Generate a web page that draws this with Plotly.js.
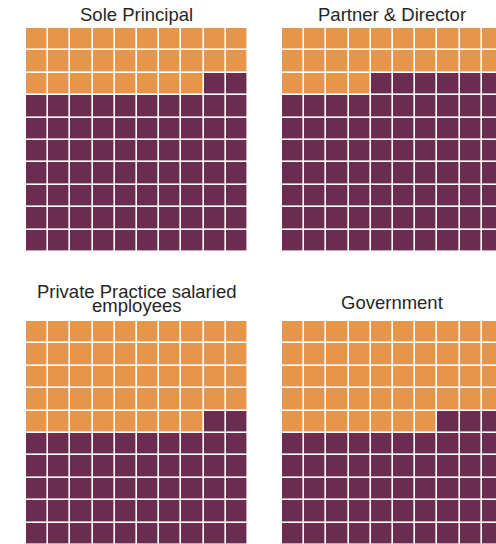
<!DOCTYPE html>
<html>
<head>
<meta charset="utf-8">
<script src="https://cdn.plot.ly/plotly-3.0.1.min.js"></script>
<style>
html, body { margin: 0; padding: 0; overflow: hidden; background: #ffffff; }
#chart { width: 520px; height: 560px; }
</style>
</head>
<body>
<div id="chart"></div>
<script>
// ---- data ----
var categories = ['Sole Principal', 'Partner & Director', 'Private Practice salaried employees', 'Government'];
var titleLines = [['Sole Principal'], ['Partner & Director'], ['Private Practice salaried', 'employees'], ['Government']];
var orangeCells = [28, 24, 48, 47];   // cells out of 100
var purpleCells = [72, 76, 52, 53];   // cells out of 100
var gridRows = 10;
var gridCols = 10;

// ---- style ----
var ORANGE = '#E6964A';
var PURPLE = '#6B2C4F';
var W = 520, H = 560;
// pixel boxes for each waffle (left, top, right, bottom)
var boxes = [
  [26, 28, 248, 252],
  [282, 28, 504, 252],
  [26, 321, 248, 545],
  [282, 321, 504, 545]
];
// title line centre y positions (px)
var titleY = [[14], [14], [291.5], [302.5]];
titleY[2].push(306);

function buildZ(nOrange) {
  var z = [];
  for (var r = 0; r < gridRows; r++) {
    var row = [];
    for (var c = 0; c < gridCols; c++) {
      var idx = r * gridCols + c;
      row.push(idx < nOrange ? 1 : 0);
    }
    z.push(row);
  }
  return z;
}

var traces = [];
var layout = {
  width: W, height: H,
  margin: {l: 0, r: 0, t: 0, b: 0},
  paper_bgcolor: '#ffffff',
  plot_bgcolor: '#ffffff',
  showlegend: false,
  annotations: []
};

for (var i = 0; i < categories.length; i++) {
  var n = i + 1;
  var xa = 'x' + (n === 1 ? '' : n);
  var ya = 'y' + (n === 1 ? '' : n);
  traces.push({
    type: 'heatmap',
    z: buildZ(orangeCells[i]),
    xaxis: xa, yaxis: ya,
    zmin: 0, zmax: 1,
    colorscale: [[0, PURPLE], [0.5, PURPLE], [0.5, ORANGE], [1, ORANGE]],
    showscale: false,
    xgap: 1.6, ygap: 1.6,
    hoverinfo: 'skip',
    name: categories[i]
  });
  var b = boxes[i];
  var xKey = 'xaxis' + (n === 1 ? '' : n);
  var yKey = 'yaxis' + (n === 1 ? '' : n);
  layout[xKey] = {
    domain: [b[0] / W, b[2] / W],
    range: [-0.5, gridCols - 0.5],
    visible: false, fixedrange: true,
    anchor: ya
  };
  layout[yKey] = {
    domain: [1 - b[3] / H, 1 - b[1] / H],
    range: [gridRows - 0.5, -0.5],
    visible: false, fixedrange: true,
    anchor: xa
  };
  var lines = titleLines[i];
  for (var k = 0; k < lines.length; k++) {
    layout.annotations.push({
      text: lines[k],
      xref: 'paper', yref: 'paper',
      x: ((b[0] + b[2]) / 2 - 1) / W,
      y: 1 - titleY[i][k] / H,
      xanchor: 'center', yanchor: 'middle',
      showarrow: false,
      font: {family: 'Liberation Sans, Arial, sans-serif', size: 18.5, color: '#262626'}
    });
  }
}

Plotly.newPlot('chart', traces, layout, {staticPlot: true, displayModeBar: false});
</script>
</body>
</html>
